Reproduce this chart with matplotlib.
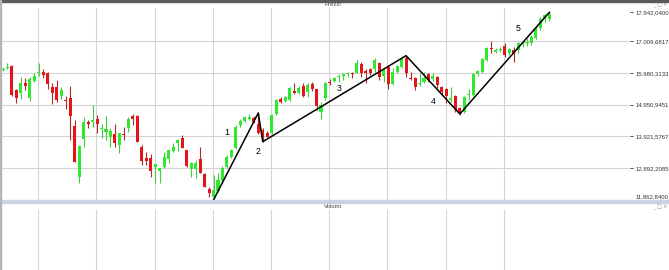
import numpy as np
import matplotlib.pyplot as plt
from matplotlib.patches import Rectangle
from matplotlib.transforms import ScaledTranslation

# weekly candles
opens = [16075, 16124, 16205, 15427, 15330, 15664, 15168, 15719, 15978, 16020,
         15978, 15524, 15524, 15242, 15103, 15178, 14261, 12618, 13830, 14400,
         14390, 14487, 14147, 14076, 13914, 14001, 13645, 14001, 14186, 14585,
         14585, 13570, 13234, 13234, 12922, 12803, 12942, 13191, 13460, 13720,
         13872, 13483, 12867, 12867, 13191, 12705, 12219, 11970, 12164, 12479,
         12942, 13266, 13548, 14293, 14432, 14487, 14520, 14325, 14131, 14044,
         14034, 14649, 15126, 15080, 15103, 15395, 15340, 15557, 15372, 15612,
         15450, 14724, 15158, 15696, 15728, 15838, 15890, 15936, 15988, 15988,
         16260, 16052, 16098, 16098, 16312, 15890, 16182, 15621, 16020, 16182,
         16454, 15826, 15806, 15612, 15696, 15936, 15774, 15858, 15514, 15450,
         15103, 15233, 14834, 14724, 15249, 15265, 15936, 16020, 16399, 16772,
         16668, 16723, 16853, 16616, 16723, 16723, 16908, 16940, 16960, 17102,
         17426, 17718, 17718]
highs = [16172, 16302, 16237, 15459, 15848, 15816, 15848, 15978, 16302, 16107,
         16010, 15654, 15751, 15524, 15233, 15557, 14455, 13645, 14552, 14455,
         14941, 14617, 14325, 14585, 14196, 14325, 14034, 14228, 14562, 14649,
         14617, 13645, 13418, 13353, 13040, 12900, 13428, 13515, 13710, 13839,
         13969, 13490, 13094, 13159, 13590, 12738, 12294, 12673, 12738, 12965,
         13321, 13515, 14293, 14487, 14585, 14649, 14585, 14682, 14196, 14099,
         14649, 15135, 15200, 15233, 15524, 15654, 15557, 15654, 15654, 15696,
         15470, 15038, 15696, 15783, 15848, 15936, 15950, 16020, 16020, 16399,
         16325, 16098, 16130, 16454, 16344, 16130, 16237, 16130, 16237, 16529,
         16538, 16020, 15858, 15968, 16020, 15968, 15968, 15870, 15557, 15482,
         15514, 15265, 14886, 15233, 15450, 15978, 16075, 16464, 16820, 17024,
         16788, 16820, 16960, 16788, 16830, 16992, 17024, 17102, 17209, 17468,
         17802, 17890, 17942]
lows = [16043, 16091, 15233, 15016, 15135, 15427, 15071, 15686, 15881, 15816,
        15459, 14973, 15048, 15135, 14811, 13807, 13094, 12424, 13590, 14196,
        14238, 14044, 13872, 13807, 13580, 13580, 13386, 13807, 14076, 14293,
        13742, 12997, 12997, 12618, 12414, 12424, 12900, 13062, 13418, 13460,
        13548, 12932, 12618, 12586, 12738, 12284, 11960, 11863, 12122, 12414,
        12900, 13224, 13515, 14228, 14390, 14455, 14358, 14001, 13752, 13904,
        14001, 14617, 15006, 15038, 15071, 15297, 15297, 15200, 15200, 15395,
        14779, 14487, 15103, 15589, 15686, 15696, 15751, 15838, 15806, 15968,
        15858, 15644, 15913, 16020, 15751, 15696, 15450, 15589, 15978, 16140,
        15858, 15751, 15427, 15557, 15644, 15696, 15728, 15482, 15265, 15016,
        15048, 14724, 14617, 14692, 15103, 15233, 15881, 15978, 16367, 16636,
        16626, 16658, 16486, 16561, 16344, 16616, 16830, 16853, 16885, 17079,
        17371, 17640, 17672]
closes = [16107, 16172, 15265, 15178, 15654, 15557, 15783, 15890, 16010, 15913,
          15621, 15340, 15103, 15427, 15054, 14585, 13104, 13622, 14400, 14325,
          14455, 14316, 14180, 14154, 14108, 13700, 14024, 13969, 14478, 14478,
          13752, 13136, 13136, 12812, 13029, 12890, 13266, 13483, 13590, 13807,
          13558, 12974, 13062, 13062, 12747, 12294, 12100, 12187, 12511, 12900,
          13266, 13483, 14238, 14432, 14552, 14562, 14400, 14034, 13895, 13914,
          14617, 15103, 15048, 15190, 15492, 15340, 15492, 15233, 15589, 15450,
          14909, 14941, 15644, 15644, 15826, 15890, 15936, 15968, 15955, 16312,
          15988, 15988, 15968, 16399, 15858, 16075, 15612, 16020, 16205, 16454,
          15988, 15793, 15534, 15664, 15826, 15751, 15881, 15589, 15372, 15233,
          15178, 14779, 14692, 15210, 15281, 15936, 16043, 16422, 16778, 16739,
          16723, 16755, 16561, 16746, 16593, 16960, 16960, 16992, 17134, 17426,
          17727, 17840, 17900]

# elliott wave pivots (candle index, price) and the count labels
wave_idx = [47, 57, 58, 90, 102, 122]
wave_px = [11863, 14682, 13752, 16538, 14650, 17942]
wave_labels = ['1', '2', '3', '4', '5']
label_idx = [50, 57, 75, 96, 115]
label_px = [14060, 13450, 15490, 15040, 17403]

ytick_vals = [11862.84, 12892.2085, 13921.5767, 14950.9451, 15980.3133, 17009.6817, 17942.04]
ytick_labels = ['11.862,8400', '12.892,2085', '13.921,5767', '14.950,9451',
                '15.980,3133', '17.009,6817', '17.942,0400']

o = np.array(opens, float)
h = np.array(highs, float)
l = np.array(lows, float)
c = np.array(closes, float)
x = np.arange(len(o))
up = c >= o

W, H = 669, 270
fig = plt.figure(figsize=(W / 100, H / 100), dpi=100)
fig.patch.set_facecolor('white')

ax = fig.add_axes([1 / W, 1 - 200 / H, 629 / W, 192 / H])
axv = fig.add_axes([1 / W, 0, 629 / W, 60 / H], sharex=ax)

# grid
xgrid = np.arange(8, 113, 13) - 0.15
for a in (ax, axv):
    for xx in xgrid:
        a.axvline(xx, color='#d4d4d4', lw=0.8, zorder=0)
    for s in a.spines.values():
        s.set_visible(False)
for yy in ytick_vals[1:-1]:
    ax.axhline(yy, color='#d4d4d4', lw=0.8, zorder=0)

# candles
wick_col = np.where(up, '#3ccf3c', '#b02a2a')
body_col = np.where(up, '#30e830', '#e3141a')
ax.vlines(x, l, h, colors=wick_col, lw=0.8, zorder=2)
bottom = np.minimum(o, c)
height = np.maximum(np.abs(c - o), 30)
ax.bar(x, height, bottom=bottom, width=0.68, color=body_col, lw=0, zorder=3)

# wave count
ax.plot(wave_idx, wave_px, color='black', lw=1.1, zorder=4)
for t, xi, yi in zip(wave_labels, label_idx, label_px):
    ax.text(xi, yi, t, fontsize=6.3, color='black',
            ha='center', va='center', family='Liberation Sans', zorder=5)

ax.set_xlim(-0.45, 140)
ax.set_ylim(11862.84, 18082)
ax.yaxis.tick_right()
ax.set_yticks(ytick_vals)
ax.set_yticklabels(ytick_labels, family='Liberation Sans')
ax.tick_params(axis='y', length=2.5, width=0.6, pad=1.5, labelsize=4.3,
               colors='#333333')
ax.tick_params(axis='x', length=0, labelbottom=False)
# the bottom label sits just above the separator
lab0 = ax.get_yticklabels()[0]
lab0.set_transform(lab0.get_transform() + ScaledTranslation(0, 3.5 / 100, fig.dpi_scale_trans))
axv.tick_params(axis='both', length=0, labelbottom=False, labelleft=False)
axv.set_yticks([])

# frame pieces
fig.patches.append(Rectangle((0, 1 - 1.5 / H), 1, 1.5 / H, transform=fig.transFigure,
                             color='#5a5a5a', zorder=10))
fig.patches.append(Rectangle((0, 1 - 203 / H), 1, 3 / H, transform=fig.transFigure,
                             color='#c9d3e1', zorder=10))
fig.patches.append(Rectangle((0, 0), 1.2 / W, 1, transform=fig.transFigure,
                             color='#b4b4b4', zorder=10))

fig.text(333 / W, 1 - 5 / H, 'Prezzi', fontsize=4.3, color='#444444',
         ha='center', va='center', family='Liberation Sans')
fig.text(333 / W, 1 - 206.5 / H, 'Volumi', fontsize=4.3, color='#444444',
         ha='center', va='center', family='Liberation Sans')
for yy in (5, 207):
    fig.text(667 / W, 1 - yy / H, '_ \u25a1 \u00d7', fontsize=3.5, color='#8a8a8a',
             ha='right', va='center')

fig.savefig('out.png', dpi=100)
